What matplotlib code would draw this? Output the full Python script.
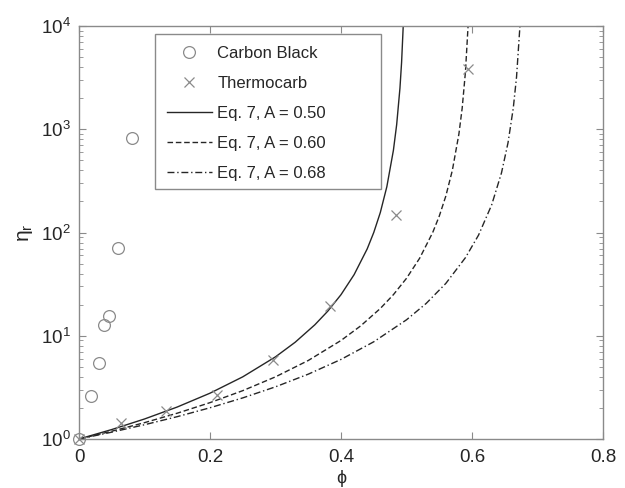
import matplotlib
matplotlib.use("Agg")
import matplotlib.pyplot as plt
from matplotlib.ticker import LogLocator, NullFormatter, FixedLocator
from matplotlib.patches import Rectangle

plt.rcParams['font.family'] = ['Liberation Sans', 'DejaVu Sans']

# Carbon Black data
cb_phi = [0.0, 0.018, 0.0305, 0.038, 0.046, 0.059, 0.0805]
cb_eta = [1.0, 2.6, 5.4, 12.8, 15.7, 71, 830]

# Thermocarb data
tc_phi = [0.0, 0.0636, 0.133, 0.210, 0.2957, 0.383, 0.4835, 0.594]
tc_eta = [1.0, 1.44, 1.88, 2.67, 5.85, 19.3, 147, 3800]

# Eq. 7 curves
a50_phi = [0, 0.05, 0.10, 0.15, 0.20, 0.25, 0.30, 0.33, 0.36, 0.38, 0.40, 0.42,
           0.44, 0.45, 0.46, 0.47, 0.48, 0.485, 0.49, 0.4925, 0.495]
a50_eta = [1.0, 1.235, 1.5625, 2.041, 2.778, 4.0, 6.25, 8.65, 12.76, 17.36, 25,
           39.06, 69.4, 100, 156, 278, 625, 1111, 2500, 4444, 10000]

a60_phi = [0, 0.05, 0.10, 0.15, 0.20, 0.25, 0.30, 0.35, 0.40, 0.43, 0.46, 0.48,
           0.50, 0.52, 0.54, 0.55, 0.56, 0.57, 0.58, 0.585, 0.59, 0.594]
a60_eta = [1.0, 1.190, 1.44, 1.778, 2.25, 2.939, 4.0, 5.76, 9.0, 12.46, 18.37, 25,
           36, 56.25, 100, 144, 225, 400, 900, 1600, 3600, 10000]

a68_phi = [0, 0.05, 0.10, 0.15, 0.20, 0.25, 0.30, 0.35, 0.40, 0.45, 0.50, 0.53,
           0.56, 0.59, 0.61, 0.63, 0.645, 0.655, 0.663, 0.668, 0.6732]
a68_eta = [1.0, 1.165, 1.3746, 1.646, 2.007, 2.501, 3.202, 4.246, 5.898, 8.741,
           14.27, 20.55, 32.11, 57.09, 94.37, 185, 377.5, 740, 1600, 3211, 10000]

x_ticks = [0, 0.2, 0.4, 0.6, 0.8]
x_tick_labels = ['0', '0.2', '0.4', '0.6', '0.8']

fig = plt.figure(figsize=(6.25, 4.88), dpi=100)
ax = fig.add_axes([0.1264, 0.1004, 0.8384, 0.8463])

gray = '#8a8a8a'
ink = '#262626'
ax.plot(cb_phi, cb_eta, linestyle='none', marker='o', markersize=8.5,
        markerfacecolor='none', markeredgecolor=gray, markeredgewidth=0.9,
        label='Carbon Black', clip_on=False, zorder=3)
ax.plot(tc_phi, tc_eta, linestyle='none', marker='x', markersize=7,
        color=gray, markeredgewidth=0.9, label='Thermocarb', clip_on=False,
        zorder=3)
ax.plot(a50_phi, a50_eta, color=ink, lw=1.0, linestyle='-',
        label='Eq. 7, A = 0.50')
ax.plot(a60_phi, a60_eta, color=ink, lw=1.0, linestyle=(0, (4, 2)),
        label='Eq. 7, A = 0.60')
ax.plot(a68_phi, a68_eta, color=ink, lw=1.0, linestyle=(0, (5, 2, 1, 2)),
        label='Eq. 7, A = 0.68')

ax.set_yscale('log')
ax.set_xlim(0, 0.8)
ax.set_ylim(1, 1e4)
ax.xaxis.set_major_locator(FixedLocator(x_ticks))
ax.set_xticklabels(x_tick_labels)
ax.yaxis.set_major_locator(LogLocator(base=10, numticks=10))
ax.yaxis.set_minor_locator(LogLocator(base=10, subs=range(2, 10), numticks=50))
ax.yaxis.set_minor_formatter(NullFormatter())

for s in ax.spines.values():
    s.set_color(gray)
    s.set_linewidth(1.0)
ax.tick_params(which='both', direction='in', top=True, right=True,
               colors=gray, labelcolor=ink, labelsize=13.5)
ax.tick_params(axis='x', which='major', pad=7)
ax.tick_params(axis='y', which='major', pad=6)
ax.tick_params(which='major', length=5)
ax.tick_params(which='minor', length=3)

ax.set_xlabel('ϕ', fontsize=13, color=ink, labelpad=3)
ax.set_ylabel(r'$\mathregular{\eta_{r}}$', fontsize=15, color=ink, labelpad=4)

# legend frame drawn by hand (wider than its content, as in the reference)
ax.add_patch(Rectangle((0.145, 0.605), 0.431, 0.376, transform=ax.transAxes,
                       facecolor='white', edgecolor=gray, lw=1.0, zorder=4))
leg = ax.legend(loc='upper left', bbox_to_anchor=(0.145, 0.981), borderaxespad=0,
                fontsize=12, handlelength=2.7, frameon=False,
                labelspacing=0.9, borderpad=0.7, handletextpad=0.35)
leg.set_zorder(5)
for t in leg.get_texts():
    t.set_color(ink)

fig.savefig('out.png', dpi=100, facecolor='white')
